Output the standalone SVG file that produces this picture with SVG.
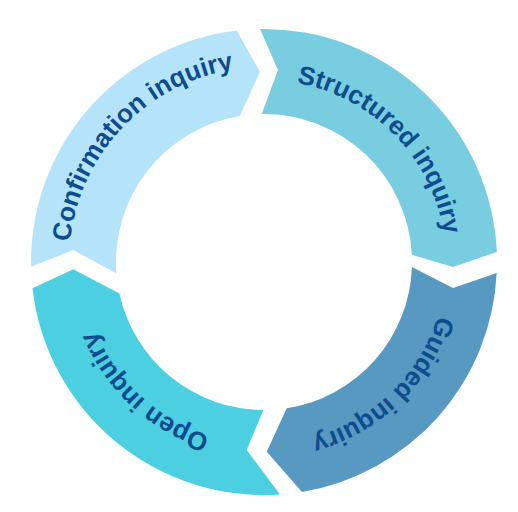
<svg xmlns="http://www.w3.org/2000/svg" width="518" height="512" viewBox="0 0 518 512">
<style>
.lbl{font-family:"Liberation Sans",Arial,sans-serif;font-weight:bold;font-size:26px;fill:#0E4C8E}
</style>
<defs>
<path id="tp1" d="M 107.25 377.99 A 195 195 0 0 1 371.63 99.39"/>
<path id="tp2" d="M 161.70 111.47 A 182 182 0 0 1 411.61 368.46"/>
<path id="tp3" d="M 414.89 160.23 A 182 182 0 0 1 157.02 409.24"/>
<path id="tp4" d="M 374.54 406.58 A 182 182 0 0 1 110.68 163.94"/>
</defs>
<rect width="518" height="512" fill="#ffffff"/>
<g id="connectors"></g>
<g id="confirmation">
<path d="M 31.1 266.7 A 233 233 0 0 1 236.6 30.6 L 260 71.7 L 239.9 116 A 148 148 0 0 0 116.5 273.6 L 73.3 250 Z" fill="#B5E4FA"/>
<text class="lbl"><textPath href="#tp1" startOffset="50%" text-anchor="middle">Confirmation inquiry</textPath></text>
</g>
<g id="structured">
<path d="M 260 29 A 233 233 0 0 1 496.8 251.9 L 453 267 L 411.8 254.8 A 148 148 0 0 0 261.7 114 L 278 70 Z" fill="#79CDE0"/>
<text class="lbl"><textPath href="#tp2" startOffset="50%" text-anchor="middle">Structured inquiry</textPath></text>
</g>
<g id="guided">
<path d="M 496.7 273.1 A 233 233 0 0 1 302 491.9 L 266.7 451.7 L 286.7 408.3 A 148 148 0 0 0 411.9 267 L 453 288 Z" fill="#5799C0"/>
<text class="lbl"><textPath href="#tp3" startOffset="50%" text-anchor="middle">Guided inquiry</textPath></text>
</g>
<g id="open">
<path d="M 280 494.5 A 233 233 0 0 1 32.5 288.2 L 73.3 269.3 L 119.4 293.4 A 148 148 0 0 0 263.3 410 L 246.7 450 Z" fill="#4CCFE0"/>
<text class="lbl"><textPath href="#tp4" startOffset="50%" text-anchor="middle">Open inquiry</textPath></text>
</g>
</svg>
